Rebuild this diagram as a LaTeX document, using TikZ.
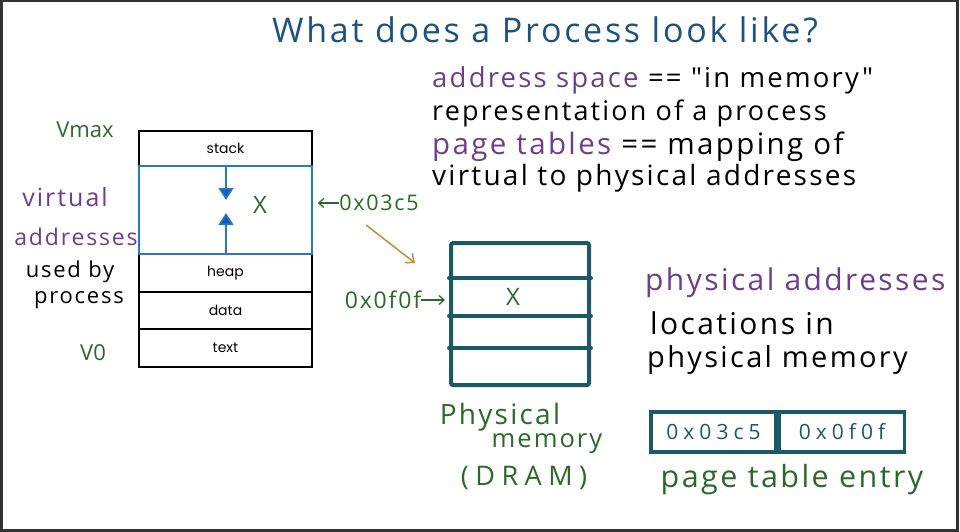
\documentclass[tikz,border=0pt]{standalone}
\usepackage{fontspec}
\setmainfont{Open Sans}
\newfontfamily\handfont[LetterSpace=8]{Open Sans}
\newfontfamily\widefont[LetterSpace=24]{Open Sans}
\newfontfamily\boxfont{Poppins}
\usetikzlibrary{arrows.meta, positioning, calc}

\definecolor{inkgreen}{RGB}{42, 105, 42}
\definecolor{inkpurple}{RGB}{108, 62, 140}
\definecolor{inktitle}{RGB}{30, 82, 128}
\definecolor{memteal}{RGB}{28, 88, 104}
\definecolor{segblue}{RGB}{40, 122, 192}
\definecolor{growblue}{RGB}{18, 92, 200}
\definecolor{maporange}{RGB}{200, 138, 48}

\tikzset{
  seg/.style={draw=black, line width=1.6pt, minimum width=173pt, inner sep=0pt, font=\boxfont\fontsize{14}{14}\selectfont},
  memline/.style={draw=memteal, line width=4pt, line cap=round},
  pte/.style={draw=memteal, line width=3.5pt, minimum width=125pt, minimum height=40pt, inner sep=0pt, text=memteal, font=\widefont\fontsize{21}{21}\selectfont},
  hand/.style={inner sep=0pt, font=\handfont\fontsize{#1}{#1}\selectfont},
  hand/.default=22,
  plain/.style={inner sep=0pt, font=\fontsize{#1}{#1}\selectfont},
  growarrow/.style={draw=segblue, line width=1.6pt, -{Triangle[width=15pt,length=12pt,fill=growblue]}},
  inkarrow/.style={draw=inkgreen, line width=1.3pt, -{Straight Barb[length=5pt,width=9pt]}}
}

\begin{document}
\begin{tikzpicture}[x=1pt, y=-1pt]
  \useasboundingbox (0,0) rectangle (960,532);
  \draw[black!80, line width=2.5pt] (1.25,1.25) rectangle (957.5,530.5);

  \node[hand=34, text=inktitle] (title) at (545,30) {What does a Process look like?};

  % definitions on the right
  \node[hand=27.5, anchor=west, text=inkpurple] (asp) at (432,80) {address space \textcolor{black}{== "in memory"}};
  \node[hand=27, anchor=west] (rep) at (432,113) {representation of a process};
  \node[hand=29.5, anchor=west, text=inkpurple] (ptab) at (432,147) {page tables \textcolor{black}{== mapping of}};
  \node[hand=28, anchor=west] (v2p) at (432,178) {virtual to physical addresses};

  % virtual address space
  \node[seg, minimum height=35pt] (stackseg) at (225.5,148.5) {stack};
  \node[seg, minimum height=38pt] (heapseg) at (225.5,273) {heap};
  \node[seg, minimum height=37pt] (dataseg) at (225.5,310.5) {data};
  \node[seg, minimum height=38pt] (textseg) at (225.5,348) {text};
  \node[seg, draw=segblue, minimum height=88pt] (freeseg) at (225.5,210) {};
  \coordinate (downtip) at (226,200);
  \coordinate (uptip) at (226,213);
  \draw[growarrow] (stackseg.south -| downtip) -- (downtip);
  \draw[growarrow] (heapseg.north -| uptip) -- (uptip);
  \node[plain=24, text=inkgreen] (vx) at (260,205) {X};

  \node[plain=22, text=inkgreen] (vmax) at (85,130) {Vmax};
  \node[hand=25, text=inkpurple] (virt) at (65,197) {virtual};
  \node[hand=23, text=inkpurple] (addr) at (76,237) {addresses};
  \node[hand=22, text=black] (usedby) at (70,272) {used by};
  \node[hand=22, text=black] (proc) at (79,300) {process};
  \node[plain=22, text=inkgreen] (vzero) at (93,353) {V0};

  \node[hand=21.5, text=inkgreen] (vaddr) at (379,203) {0x03c5};
  \draw[inkarrow, shorten >=5pt] (vaddr.west) -- (freeseg.east |- vaddr.west);

  % physical memory
  \node[memline, rounded corners=2pt, minimum width=138pt, minimum height=142pt] (mem) at (520,314) {};
  \foreach \y in {278,316,348}
    \draw[memline] (mem.west |- 0,\y) -- (mem.east |- 0,\y);
  \node[plain=24, text=inkgreen] (mx) at (513,297) {X};

  \node[hand=23, text=inkgreen] (paddr) at (383,300) {0x0f0f};
  \draw[inkarrow, shorten >=4pt] (paddr.east) -- (mem.west |- paddr.east);

  \coordinate (maptail) at (366,225);
  \coordinate (maphead) at (415,263);
  \draw[maporange, line width=1.5pt, -{Straight Barb[length=7pt,width=12pt]}] (maptail) -- (maphead);

  \node[hand=28, text=inkgreen] (physl) at (500,417) {Physical};
  \node[hand=25.5, text=inkgreen] (meml) at (547,444) {memory};
  \node[inner sep=0pt, font=\widefont\fontsize{27}{27}\selectfont, text=inkgreen] (draml) at (524,478) {(DRAM)};

  % physical addresses
  \node[hand=30, anchor=west, text=inkpurple] (phys) at (645,283) {physical addresses};
  \node[hand=30, anchor=west] (loc) at (650,323) {locations in};
  \node[hand=29, anchor=west] (pmem) at (647,360) {physical memory};

  % page table entry
  \node[pte] (ptev) at (713.5,432) {0x03c5};
  \node[pte, right=0pt of ptev] (ptep) {0x0f0f};
  \node[hand=30.5, text=inkgreen] (ptel) at (792,480) {page table entry};
\end{tikzpicture}
\end{document}
